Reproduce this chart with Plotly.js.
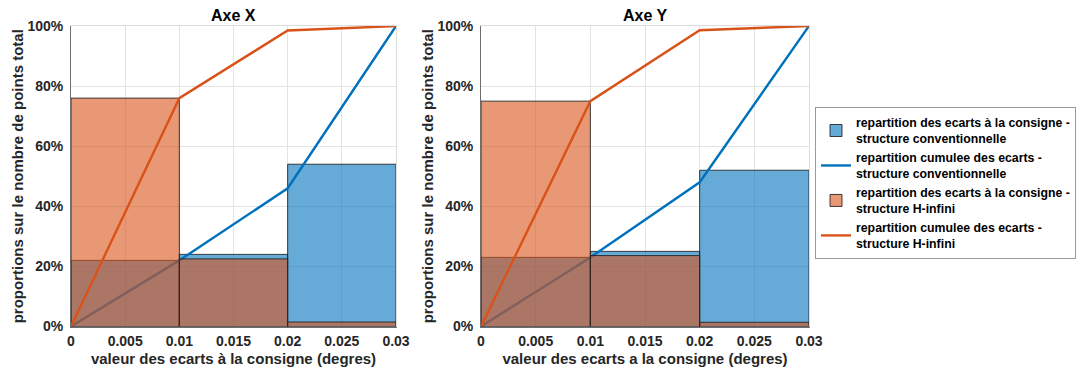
<!DOCTYPE html>
<html>
<head>
<meta charset="utf-8">
<script src="https://cdn.plot.ly/plotly-3.0.1.min.js"></script>
<style>html,body{margin:0;padding:0;background:#fff;overflow:hidden;width:1076px;height:374px;}#chart{width:1076px;height:374px;overflow:hidden;}#chart .main-svg{overflow:hidden;}</style>
</head>
<body>
<div id="chart"></div>
<script>
// bin edges (degrees)
const binEdges = [0, 0.01, 0.02, 0.03];
// Axe X
const axeXConvPct = [22, 24, 54];
const axeXConvCum = [0, 22, 46, 100];
const axeXHinfPct = [76, 22.5, 1.5];
const axeXHinfCum = [0, 76, 98.5, 100];
// Axe Y
const axeYConvPct = [23, 25, 52];
const axeYConvCum = [0, 23, 48, 100];
const axeYHinfPct = [75, 23.6, 1.4];
const axeYHinfCum = [0, 75, 98.6, 100];

// tick labels
const xTickVals = [0, 0.005, 0.01, 0.015, 0.02, 0.025, 0.03];
const xTickText = ["0", "0.005", "0.01", "0.015", "0.02", "0.025", "0.03"];
const yTickVals = [0, 20, 40, 60, 80, 100];
const yTickText = ["0%", "20%", "40%", "60%", "80%", "100%"];

const titles = ["Axe X", "Axe Y"];
const xTitles = ["valeur des ecarts à la consigne (degres)", "valeur des ecarts a la consigne (degres)"];
const yTitle = "proportions sur le nombre de points total";
const legendNames = [
  "repartition des ecarts à la consigne -<br>structure conventionnelle",
  "repartition cumulee des ecarts -<br>structure conventionnelle",
  "repartition des ecarts à la consigne -<br>structure H-infini",
  "repartition cumulee des ecarts -<br>structure H-infini"
];

const binCenters = binEdges.slice(0, -1).map((e, i) => (e + binEdges[i + 1]) / 2);
const binWidths = binEdges.slice(0, -1).map((e, i) => binEdges[i + 1] - e);

const BLUE = "#0072BD", ORANGE = "#D95319";
const BLUE_FILL = "rgba(0,114,189,0.6)", ORANGE_FILL = "rgba(217,83,25,0.6)";
const EDGE = "rgba(30,30,30,0.85)";
const FONT = "Liberation Sans, Arial, sans-serif";

const panels = [
  {conv: axeXConvPct, convCum: axeXConvCum, hinf: axeXHinfPct, hinfCum: axeXHinfCum},
  {conv: axeYConvPct, convCum: axeYConvCum, hinf: axeYHinfPct, hinfCum: axeYHinfCum}
];

const data = [];
panels.forEach((p, k) => {
  const base = k * 2 + 1, over = k * 2 + 2;
  const bx = base === 1 ? "x" : "x" + base, by = base === 1 ? "y" : "y" + base;
  const ox = "x" + over, oy = "y" + over;
  const show = k === 0;
  data.push({type: "bar", x: binCenters, y: p.conv, width: binWidths, xaxis: bx, yaxis: by,
    name: legendNames[0], showlegend: show, marker: {color: BLUE_FILL, line: {color: EDGE, width: 1}}, hoverinfo: "skip"});
  data.push({type: "scatter", mode: "lines", x: binEdges, y: p.convCum, xaxis: bx, yaxis: by,
    name: legendNames[1], showlegend: show, line: {color: BLUE, width: 2.4}, hoverinfo: "skip"});
  data.push({type: "bar", x: binCenters, y: p.hinf, width: binWidths, xaxis: ox, yaxis: oy,
    name: legendNames[2], showlegend: show, marker: {color: ORANGE_FILL, line: {color: EDGE, width: 1}}, hoverinfo: "skip"});
  data.push({type: "scatter", mode: "lines", x: binEdges, y: p.hinfCum, xaxis: ox, yaxis: oy,
    name: legendNames[3], showlegend: show, line: {color: ORANGE, width: 2.4}, hoverinfo: "skip"});
});

const W = 1076, H = 374;
const xDomains = [[71 / W, 396 / W], [481 / W, 809 / W]];
const yDomain = [1 - 326.5 / H, 1 - 26 / H];
const tickFont = {family: FONT, size: 14, color: "#262626", weight: "bold"};
const titleFont = {family: FONT, size: 15, color: "#262626", weight: "bold"};

const layout = {
  width: W, height: H,
  margin: {l: 0, r: 0, t: 0, b: 0},
  paper_bgcolor: "#fff", plot_bgcolor: "rgba(0,0,0,0)",
  barmode: "overlay",
  showlegend: true,
  legend: {
    x: 815 / W, y: 1 - 107 / H, xanchor: "left", yanchor: "top",
    bgcolor: "#fff", bordercolor: "#9a9a9a", borderwidth: 1,
    font: {family: FONT, size: 12.3, color: "#000", weight: "bold"},
    traceorder: "normal", tracegroupgap: 0
  },
  annotations: []
};

[0, 1].forEach(k => {
  const base = k * 2 + 1, over = k * 2 + 2;
  const bxKey = base === 1 ? "xaxis" : "xaxis" + base;
  const byKey = base === 1 ? "yaxis" : "yaxis" + base;
  const bx = base === 1 ? "x" : "x" + base, by = base === 1 ? "y" : "y" + base;
  layout[bxKey] = {
    domain: xDomains[k], anchor: by, range: [0, 0.03], fixedrange: true, automargin: false,
    tickmode: "array", tickvals: xTickVals, ticktext: xTickText,
    tickfont: tickFont, ticks: "", ticklabelstandoff: 2,
    showgrid: true, gridcolor: "#e3e3e3", gridwidth: 1, zeroline: false,
    showline: true, linecolor: "#6e6e6e", linewidth: 1,
    title: {text: xTitles[k], font: titleFont, standoff: 5}
  };
  layout[byKey] = {
    domain: yDomain, anchor: bx, range: [0, 100], fixedrange: true, automargin: false,
    tickmode: "array", tickvals: yTickVals, ticktext: yTickText,
    tickfont: tickFont, ticks: "", ticklabelstandoff: 4,
    showgrid: true, gridcolor: "#e3e3e3", gridwidth: 1, zeroline: false,
    showline: true, linecolor: "#6e6e6e", linewidth: 1,
    title: {text: yTitle, font: titleFont, standoff: 0}
  };
  layout["xaxis" + over] = {
    domain: xDomains[k], anchor: "y" + over, overlaying: bx, range: [0, 0.03], fixedrange: true,
    side: "top", showticklabels: false, ticks: "", showgrid: false, zeroline: false,
    showline: true, linecolor: "#dcdcdc", linewidth: 1
  };
  layout["yaxis" + over] = {
    domain: yDomain, anchor: "x" + over, overlaying: by, range: [0, 100], fixedrange: true,
    side: "right", showticklabels: false, ticks: "", showgrid: false, zeroline: false,
    showline: true, linecolor: "#dcdcdc", linewidth: 1
  };
  layout.annotations.push({
    text: titles[k], xref: "paper", yref: "paper",
    x: (xDomains[k][0] + xDomains[k][1]) / 2, y: 1 - 15 / H,
    xanchor: "center", yanchor: "middle", showarrow: false,
    font: {family: FONT, size: 16, color: "#000", weight: "bold"}
  });
});

Plotly.newPlot("chart", data, layout, {displayModeBar: false, staticPlot: true});
</script>
</body>
</html>
